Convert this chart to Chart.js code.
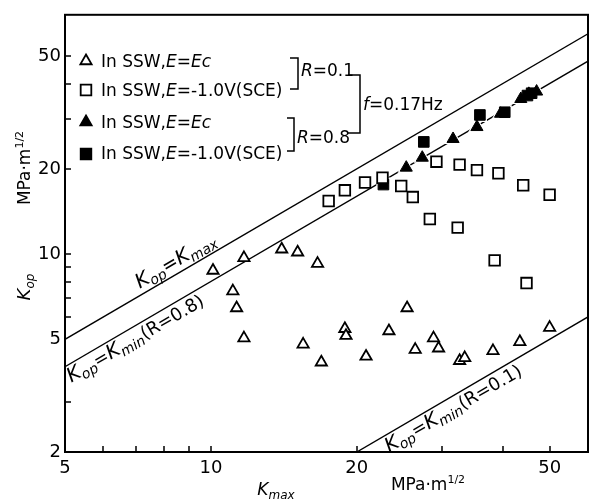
<!DOCTYPE html>
<html>
<head>
<meta charset="utf-8">
<title>Kop vs Kmax</title>
<script src="https://cdn.jsdelivr.net/npm/chart.js@4.4.1/dist/chart.umd.min.js"></script>
<style>
  html, body { margin: 0; padding: 0; background: #fff; }
  canvas { display: block; }
</style>
</head>
<body>
<canvas id="kopChart" width="589" height="502"></canvas>
<script>
// tick labels and the inner tick marks
const xTickLabels = [5, 10, 20, 50];
const yTickLabels = [2, 5, 10, 20, 50];
const xTickMarks = [6, 7, 8, 9, 10, 20, 30, 40, 50];
const yTickMarks = [3, 6, 7, 8, 9, 10, 20, 30, 40, 50];

// In SSW, E=Ec, R=0.1 (open triangles)
const openTriKmax = [10.1, 11.7, 11.1, 11.3, 11.7, 14.0, 15.1, 16.6, 15.5, 16.9, 18.9, 19.0, 20.9, 23.3, 25.4, 26.4, 28.8, 29.5, 32.6, 33.4, 38.2, 43.4, 50.0];
const openTriKop = [8.75, 9.7, 7.4, 6.45, 5.05, 10.4, 10.15, 9.25, 4.8, 4.15, 5.45, 5.15, 4.35, 5.35, 6.45, 4.6, 5.05, 4.65, 4.2, 4.3, 4.55, 4.9, 5.5];

// In SSW, E=-1.0V(SCE), R=0.1 (open squares)
const openSqKmax = [17.5, 18.9, 20.8, 22.6, 24.7, 26.1, 28.3, 29.2, 32.3, 32.6, 35.4, 38.5, 39.2, 44.1, 44.8, 50.0];
const openSqKop = [15.4, 16.8, 17.9, 18.6, 17.4, 15.9, 13.3, 21.2, 12.4, 20.7, 19.8, 9.5, 19.3, 17.5, 7.9, 16.2];

// In SSW, E=Ec, R=0.8 (filled triangles)
const fillTriKmax = [25.3, 27.3, 31.6, 35.4, 39.6, 43.6, 45.3, 47.0];
const fillTriKop = [20.2, 21.9, 25.5, 28.1, 31.3, 35.3, 36.8, 37.5];

// In SSW, E=-1.0V(SCE), R=0.8 (filled squares)
const fillSqKmax = [22.7, 27.5, 35.9, 40.4, 45.0, 45.9];
const fillSqKop = [17.6, 24.9, 31.0, 31.7, 36.3, 37.0];

// reference lines
const kmaxLineX = [5, 60];
const kmaxLineY = [5, 60];
const kmin08LineX = [5, 60];
const kmin08LineY = [4, 48];
const kmin01LineX = [20, 60];
const kmin01LineY = [2, 6];

const FONT = '"DejaVu Sans", sans-serif';

function toPoints(xs, ys) {
    return xs.map(function (x, i) { return { x: x, y: ys[i] }; });
}

function fontOf(p) {
    return (p[2] ? 'italic ' : '') + p[1] + 'px ' + FONT;
}

// parts: [text, size, italic, baseline shift]
function drawParts(ctx, parts, x, y, align) {
    var w = 0;
    parts.forEach(function (p) { ctx.font = fontOf(p); w += ctx.measureText(p[0]).width; });
    var cx = align === 'center' ? x - w / 2 : x;
    ctx.textBaseline = 'alphabetic';
    ctx.textAlign = 'left';
    parts.forEach(function (p) {
        ctx.font = fontOf(p);
        ctx.fillText(p[0], cx, y + (p[3] || 0));
        cx += ctx.measureText(p[0]).width;
    });
}

function lineLabel(ctx, chart, lx, ly, atX, parts, offset) {
    var xs = chart.scales.x, ys = chart.scales.y;
    var x1 = xs.getPixelForValue(lx[0]), y1 = ys.getPixelForValue(ly[0]);
    var x2 = xs.getPixelForValue(lx[1]), y2 = ys.getPixelForValue(ly[1]);
    var px = xs.getPixelForValue(atX);
    var py = y1 + (px - x1) / (x2 - x1) * (y2 - y1);
    ctx.save();
    ctx.translate(px, py);
    ctx.rotate(Math.atan2(y2 - y1, x2 - x1));
    drawParts(ctx, parts, 0, offset, 'center');
    ctx.restore();
}

function marker(ctx, style, filled, x, y, r) {
    ctx.beginPath();
    if (style === 'triangle') {
        ctx.moveTo(x, y - r);
        ctx.lineTo(x + r * 0.866, y + r / 2);
        ctx.lineTo(x - r * 0.866, y + r / 2);
        ctx.closePath();
    } else {
        var s = r * Math.SQRT1_2;
        ctx.rect(x - s, y - s, 2 * s, 2 * s);
    }
    ctx.fillStyle = filled ? '#000' : '#fff';
    ctx.fill();
    ctx.lineWidth = 1.8;
    ctx.strokeStyle = '#000';
    ctx.stroke();
    ctx.fillStyle = '#000';
}

function bracket(ctx, x, top, bottom, stub) {
    ctx.beginPath();
    ctx.moveTo(x - stub, top);
    ctx.lineTo(x, top);
    ctx.lineTo(x, bottom);
    ctx.lineTo(x - stub, bottom);
    ctx.stroke();
}

const annotations = {
    id: 'annotations',
    afterDatasetsDraw: function (chart) {
        var ctx = chart.ctx;
        var area = chart.chartArea;
        var xs = chart.scales.x, ys = chart.scales.y;
        ctx.save();
        ctx.strokeStyle = '#000';
        ctx.fillStyle = '#000';

        // frame
        ctx.lineWidth = 2;
        ctx.strokeRect(area.left, area.top, area.right - area.left, area.bottom - area.top);

        // inward ticks
        ctx.lineWidth = 1.5;
        ctx.beginPath();
        xTickMarks.forEach(function (v) {
            var px = Math.round(xs.getPixelForValue(v));
            ctx.moveTo(px, area.bottom);
            ctx.lineTo(px, area.bottom - 6);
        });
        yTickMarks.forEach(function (v) {
            var py = Math.round(ys.getPixelForValue(v));
            ctx.moveTo(area.left, py);
            ctx.lineTo(area.left + 6, py);
        });
        ctx.stroke();

        // line labels
        lineLabel(ctx, chart, kmaxLineX, kmaxLineY, 8.7,
            [['K', 20, true], ['op', 14, true, 4], ['=', 19, false], ['K', 20, true], ['max', 14, true, 4]], -6);
        lineLabel(ctx, chart, kmin08LineX, kmin08LineY, 6.8,
            [['K', 20, true], ['op', 14, true, 4], ['=', 18, false], ['K', 20, true], ['min', 14, true, 4], ['(R=0.8)', 18, false]], 17);
        lineLabel(ctx, chart, kmin01LineX, kmin01LineY, 30.8,
            [['K', 20, true], ['op', 14, true, 4], ['=', 18, false], ['K', 20, true], ['min', 14, true, 4], ['(R=0.1)', 18, false]], 17);

        // legend
        var rows = [
            { style: 'triangle', filled: false, my: 61, by: 67, parts: [['In SSW,', 17, false], ['E=Ec', 17, true]] },
            { style: 'rect', filled: false, my: 90, by: 96, parts: [['In SSW,', 17, false], ['E', 17, true], ['=-1.0V(SCE)', 17, false]] },
            { style: 'triangle', filled: true, my: 122, by: 128, parts: [['In SSW,', 17, false], ['E=Ec', 17, true]] },
            { style: 'rect', filled: true, my: 154, by: 159, parts: [['In SSW,', 17, false], ['E', 17, true], ['=-1.0V(SCE)', 17, false]] }
        ];
        rows.forEach(function (r) {
            marker(ctx, r.style, r.filled, 86, r.my, r.style === 'triangle' ? 6.5 : 7.5);
            drawParts(ctx, r.parts, 101, r.by, 'left');
        });

        ctx.lineWidth = 1.5;
        bracket(ctx, 298, 58, 89, 8);
        drawParts(ctx, [['R', 17, true], ['=0.1', 17, false]], 301, 76, 'left');
        bracket(ctx, 294, 118, 151, 7);
        drawParts(ctx, [['R', 17, true], ['=0.8', 17, false]], 297, 143, 'left');
        bracket(ctx, 360, 75, 133, 12);
        drawParts(ctx, [['f', 17, true], ['=0.17Hz', 17, false]], 363, 110, 'left');

        // axis titles
        drawParts(ctx, [['K', 17, true], ['max', 12, true, 4]], 276, 495, 'center');
        drawParts(ctx, [['MPa·m', 17, false], ['1/2', 11, false, -7]], 428, 490, 'center');
        ctx.save();
        ctx.translate(30, 287);
        ctx.rotate(-Math.PI / 2);
        drawParts(ctx, [['K', 18, true], ['op', 12, true, 4]], 0, 0, 'center');
        ctx.restore();
        ctx.save();
        ctx.translate(30, 168);
        ctx.rotate(-Math.PI / 2);
        drawParts(ctx, [['MPa·m', 17, false], ['1/2', 11, false, -7]], 0, 0, 'center');
        ctx.restore();

        ctx.restore();
    }
};

function markerSet(label, xs, ys, style, filled, radius, order) {
    return {
        type: 'scatter',
        label: label,
        data: toPoints(xs, ys),
        pointStyle: style,
        pointRadius: radius,
        pointBackgroundColor: filled ? '#000' : '#fff',
        pointBorderColor: '#000',
        pointBorderWidth: filled ? 1 : 1.8,
        showLine: false,
        order: order
    };
}

function haloSet(xs, ys, style, radius) {
    return {
        type: 'scatter',
        data: toPoints(xs, ys),
        pointStyle: style,
        pointRadius: radius,
        pointBackgroundColor: '#fff',
        pointBorderColor: '#fff',
        pointBorderWidth: 0,
        showLine: false,
        order: 5
    };
}

function refLine(xs, ys) {
    return {
        type: 'line',
        data: toPoints(xs, ys),
        borderColor: '#000',
        borderWidth: 1.4,
        pointRadius: 0,
        fill: false,
        order: 10
    };
}

var ctx = document.getElementById('kopChart').getContext('2d');
new Chart(ctx, {
    data: {
        datasets: [
            markerSet('In SSW, E=Ec (R=0.1)', openTriKmax, openTriKop, 'triangle', false, 6.5, 0),
            markerSet('In SSW, E=-1.0V(SCE) (R=0.1)', openSqKmax, openSqKop, 'rect', false, 7.5, 1),
            markerSet('In SSW, E=Ec (R=0.8)', fillTriKmax, fillTriKop, 'triangle', true, 7, 2),
            markerSet('In SSW, E=-1.0V(SCE) (R=0.8)', fillSqKmax, fillSqKop, 'rect', true, 7.5, 3),
            haloSet(fillTriKmax, fillTriKop, 'triangle', 10),
            haloSet(fillSqKmax, fillSqKop, 'rect', 10),
            refLine(kmaxLineX, kmaxLineY),
            refLine(kmin08LineX, kmin08LineY),
            refLine(kmin01LineX, kmin01LineY)
        ]
    },
    options: {
        responsive: false,
        animation: false,
        devicePixelRatio: 1,
        layout: { autoPadding: false, padding: { top: 11, right: 1, left: 0, bottom: 0 } },
        plugins: { legend: { display: false }, tooltip: { enabled: false } },
        scales: {
            x: {
                type: 'logarithmic',
                min: 5,
                max: 60,
                grid: { display: false, drawTicks: false },
                border: { display: false },
                ticks: {
                    color: '#000',
                    font: { family: 'DejaVu Sans', size: 18 },
                    padding: 6,
                    autoSkip: false,
                    maxRotation: 0,
                    callback: function (v) { return String(v); }
                },
                afterBuildTicks: function (scale) {
                    scale.ticks = xTickLabels.map(function (v) { return { value: v }; });
                },
                afterFit: function (scale) { scale.height = 50; }
            },
            y: {
                type: 'logarithmic',
                min: 2,
                max: 70,
                grid: { display: false, drawTicks: false },
                border: { display: false },
                ticks: {
                    color: '#000',
                    font: { family: 'DejaVu Sans', size: 18 },
                    padding: 4,
                    autoSkip: false,
                    callback: function (v) { return String(v); }
                },
                afterBuildTicks: function (scale) {
                    scale.ticks = yTickLabels.map(function (v) { return { value: v }; });
                },
                afterFit: function (scale) { scale.width = 65; }
            }
        }
    },
    plugins: [annotations]
});
</script>
</body>
</html>
